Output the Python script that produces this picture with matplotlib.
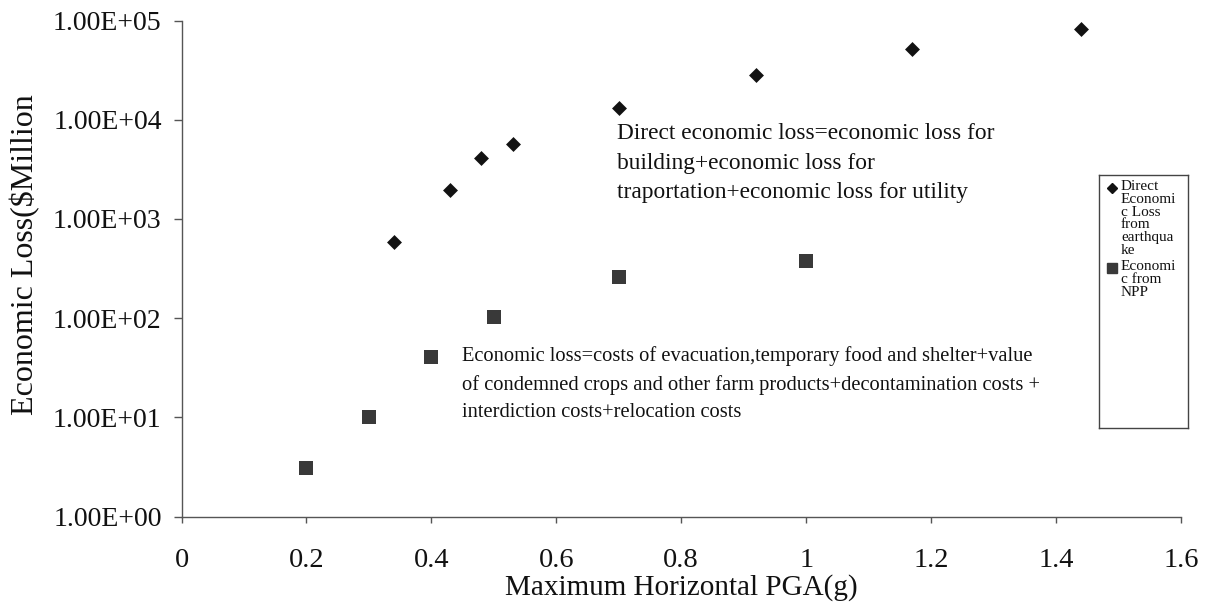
import matplotlib
matplotlib.use("Agg")
import matplotlib.pyplot as plt
from matplotlib.ticker import FixedLocator, FuncFormatter
from matplotlib.transforms import Bbox

# PGA (g) and economic loss ($ million) for the two loss sources
pga_quake = [0.34, 0.43, 0.48, 0.53, 0.70, 0.92, 1.17, 1.44]
loss_quake = [580, 1950, 4100, 5700, 13200, 28000, 51500, 82500]

pga_npp = [0.20, 0.30, 0.40, 0.50, 0.70, 1.00]
loss_npp = [3.1, 10.2, 41, 104, 258, 375]

x_ticks = [0, 0.2, 0.4, 0.6, 0.8, 1.0, 1.2, 1.4, 1.6]
y_ticks = [1e0, 1e1, 1e2, 1e3, 1e4, 1e5]

quake_label = "Direct\nEconomi\nc Loss\nfrom\nearthqua\nke"
npp_label = "Economi\nc from\nNPP"

quake_note = ("Direct economic loss=economic loss for\n"
              "building+economic loss for\n"
              "traportation+economic loss for utility")
npp_note = ("Economic loss=costs of evacuation,temporary food and shelter+value\n"
            "of condemned crops and other farm products+decontamination costs +\n"
            "interdiction costs+relocation costs")

SERIF = ["Liberation Serif", "DejaVu Serif"]
plt.rcParams["font.family"] = SERIF

W, H = 1207, 608
fig = plt.figure(figsize=(W / 100, H / 100), dpi=100)
fig.patch.set_facecolor("white")

def fx(px):
    return px / W

def fy(py):
    return 1 - py / H

left, right, top, bottom = 181.5, 1181, 20.5, 516.7
ax = fig.add_axes([fx(left), fy(bottom), fx(right) - fx(left), fy(top) - fy(bottom)])

ax.scatter(pga_quake, loss_quake, marker="D", s=7.6 ** 2, color="#121212",
           linewidths=0, zorder=3)
ax.scatter(pga_npp, loss_npp, marker="s", s=9.6 ** 2, color="#393939",
           linewidths=0, zorder=3)

ax.set_yscale("log")
ax.set_xlim(0, 1.6)
ax.set_ylim(1e0, 1e5)

ax.xaxis.set_major_locator(FixedLocator(x_ticks))
ax.xaxis.set_major_formatter(FuncFormatter(lambda v, p: f"{v:g}"))
ax.yaxis.set_major_locator(FixedLocator(y_ticks))
ax.yaxis.set_major_formatter(FuncFormatter(lambda v, p: f"{v:.2E}"))
ax.yaxis.set_minor_locator(FixedLocator([]))

for side in ("top", "right"):
    ax.spines[side].set_visible(False)
for side in ("left", "bottom"):
    ax.spines[side].set_color("#555555")
    ax.spines[side].set_linewidth(1.0)

ax.tick_params(axis="y", direction="out", length=5.8, width=1.0, color="#555555",
               labelsize=20, pad=8.5, labelcolor="#111111")
ax.tick_params(axis="x", direction="out", length=4.3, width=1.0, color="#555555",
               labelsize=20.5, pad=18, labelcolor="#111111")

ax.set_xlabel("Maximum Horizontal PGA(g)", fontsize=21, color="#111111", labelpad=1)

# y-axis title, cut off at the top edge of its text box
ylab = fig.text(fx(25), fy(415), "Economic Loss($Million)", rotation=90,
                ha="center", va="bottom", fontsize=23, color="#111111")
ylab.set_clip_box(Bbox.from_extents(0, 0, 80, H - 95))
ylab.set_clip_on(True)

fig.text(fx(617), fy(163), quake_note, ha="left", va="center", fontsize=16.8,
         color="#111111", linespacing=1.52)
fig.text(fx(462), fy(384), npp_note, ha="left", va="center", fontsize=14.8,
         color="#111111", linespacing=1.62)

# legend panel
lx0, lx1, ly0, ly1 = 1099, 1188, 175, 428
lax = fig.add_axes([fx(lx0), fy(ly1), fx(lx1) - fx(lx0), fy(ly0) - fy(ly1)])
lax.set_xlim(lx0, lx1)
lax.set_ylim(ly1, ly0)
lax.set_xticks([])
lax.set_yticks([])
for s in lax.spines.values():
    s.set_color("#444444")
    s.set_linewidth(1.0)
lax.plot([1112], [188], marker="D", ms=5.2, color="#121212", linestyle="none")
lax.plot([1112], [268], marker="s", ms=6.5, color="#393939", linestyle="none")
lax.text(1121, 180.5, quake_label, ha="left", va="top", fontsize=11,
         color="#111111", linespacing=0.96)
lax.text(1121, 260.5, npp_label, ha="left", va="top", fontsize=11,
         color="#111111", linespacing=0.96)

fig.savefig("out.png", dpi=100, facecolor="white")
